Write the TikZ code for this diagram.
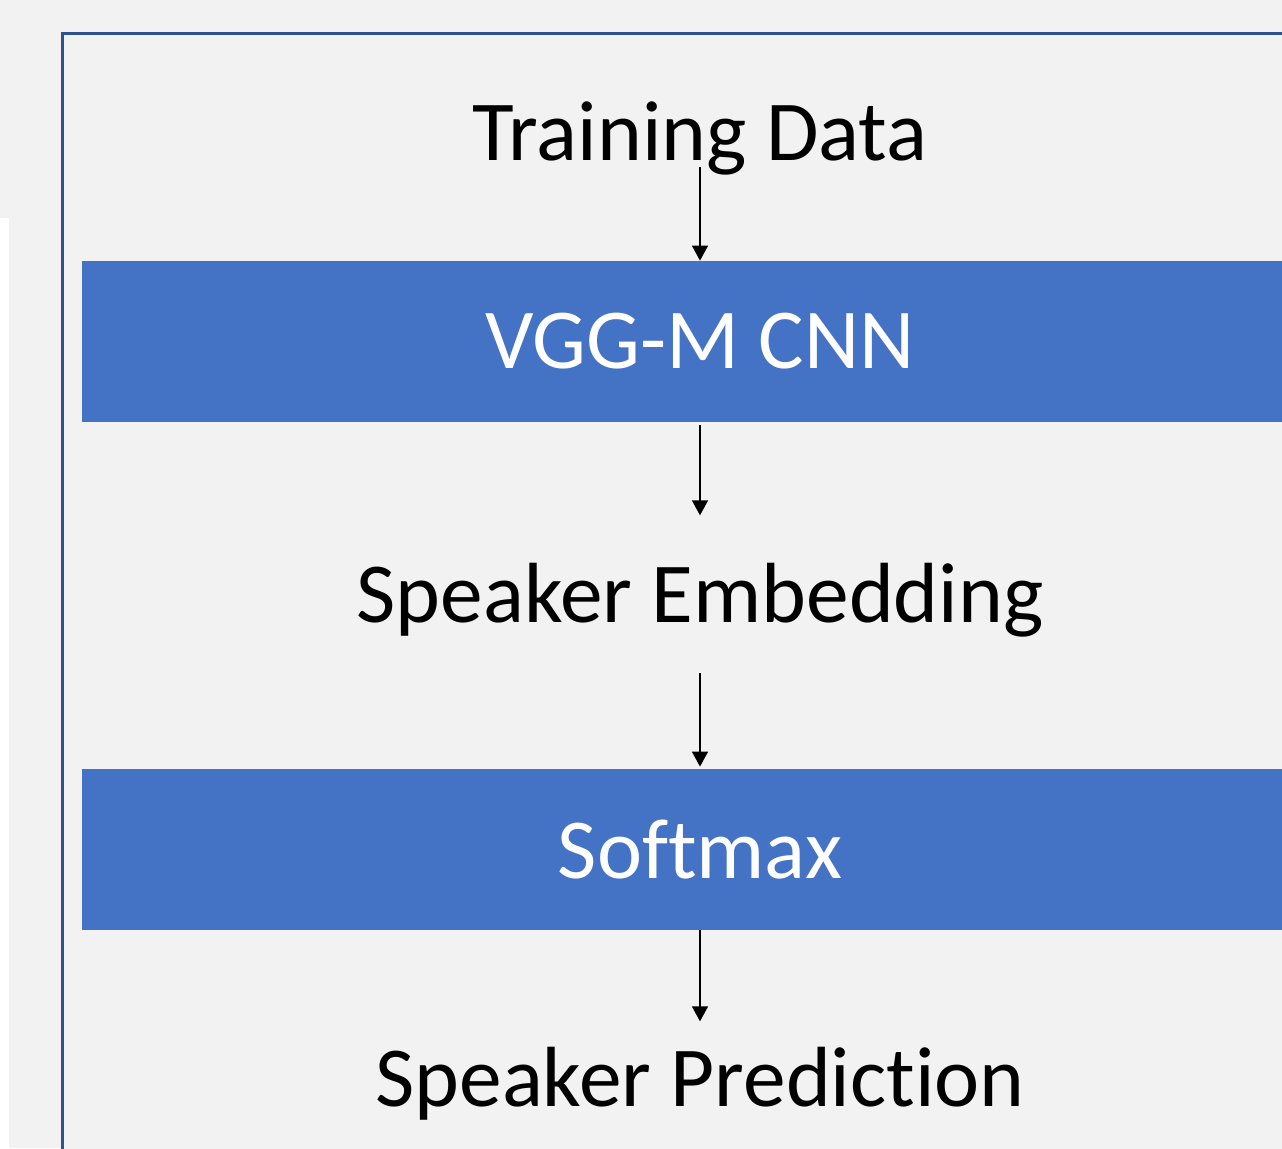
\documentclass[tikz,border=0pt]{standalone}
\usepackage{fontspec}
\setmainfont[Ligatures=NoCommon]{Carlito}
\definecolor{pagegray}{HTML}{F2F2F2}
\definecolor{barblue}{HTML}{4472C4}
\definecolor{frameblue}{HTML}{2F528F}
\usetikzlibrary{positioning, arrows.meta}

\begin{document}
\begin{tikzpicture}[
    x=0.5pt, y=-0.5pt,
    >={Triangle[width=8pt, length=7.5pt]},
    bar/.style={rectangle, fill=barblue, draw=none, minimum width=618pt,
                minimum height=80.5pt, inner sep=0pt, text=white,
                font=\fontsize{42.7}{50}\selectfont},
    lbl/.style={inner sep=0pt, anchor=base, text=black,
                font=\fontsize{42.7}{50}\selectfont},
    arr/.style={->, black, line width=0.75pt},
  ]
  \useasboundingbox (0,0) rectangle (1282,1148);
  \clip (0,0) rectangle (1282,1148);

  % page and frame
  \fill[pagegray] (0,0) rectangle (1282,1148);
  \fill[white] (0,218) rectangle (9,1148);
  \draw[frameblue, line width=1.5pt, fill=pagegray] (62,33) rectangle (1320,1180);

  \node[lbl] (train) at (700,160) {Training Data};
  \node[bar] (vgg) at (700,341.5) {VGG-M CNN};
  \node[lbl] (embed) at (700,622) {Speaker Embedding};
  \node[bar] (softmax) at (700,849.5) {Softmax};
  \node[lbl] (pred) at (700,1106) {Speaker Prediction};

  \draw[arr, shorten <=-4pt] (train.south) -- (vgg.north);
  \draw[arr, shorten <=1.5pt, shorten >=23.5pt] (vgg.south) -- (embed.north);
  \draw[arr, shorten <=18pt, shorten >=1pt] (embed.south) -- (softmax.north);
  \draw[arr, shorten >=12.5pt] (softmax.south) -- (pred.north);
\end{tikzpicture}
\end{document}
